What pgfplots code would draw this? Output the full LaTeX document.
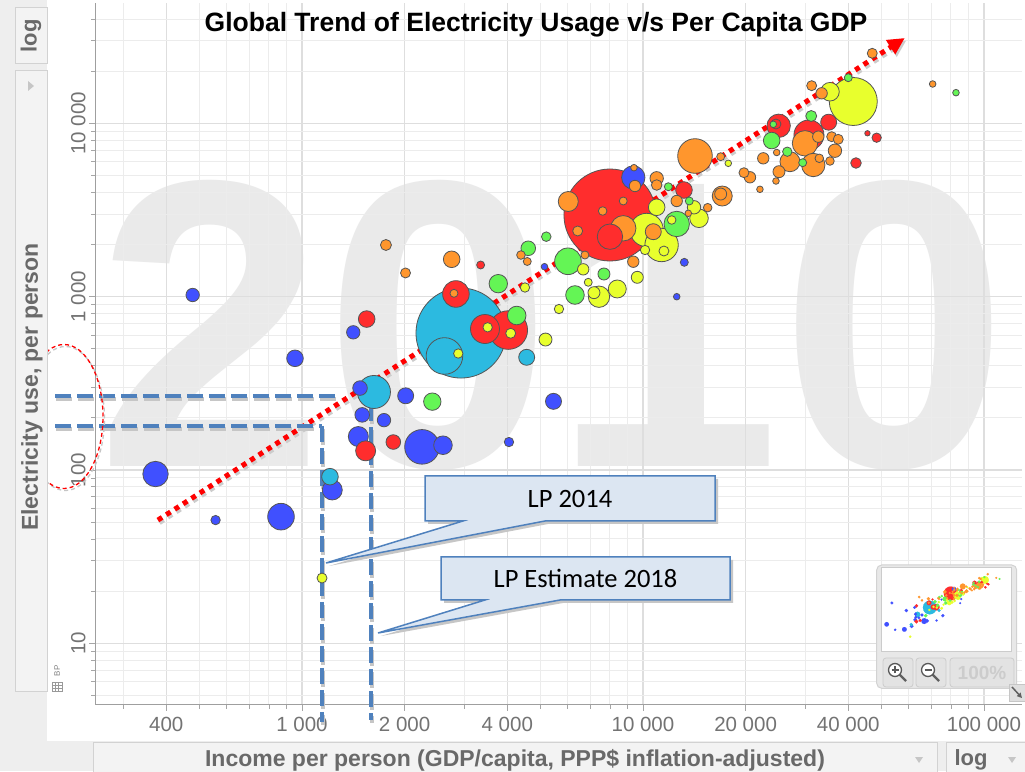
\documentclass[border=0pt]{standalone}
\usepackage{pgfplots}
\pgfplotsset{compat=1.18}
\usepackage{pgfplotstable}
\usepackage{fontspec}
\setmainfont{Liberation Sans}
\newfontfamily\calib{Carlito}
\usetikzlibrary{arrows.meta}

\definecolor{cB}{RGB}{64,80,255}
\definecolor{cC}{RGB}{44,186,224}
\definecolor{cR}{RGB}{255,45,45}
\definecolor{cY}{RGB}{232,255,45}
\definecolor{cO}{RGB}{255,150,45}
\definecolor{cG}{RGB}{100,245,85}
\definecolor{edge}{RGB}{85,85,85}
\definecolor{uibg}{RGB}{238,238,238}
\definecolor{uipanel}{RGB}{243,243,243}
\definecolor{uiborder}{RGB}{210,210,210}
\definecolor{labgray}{RGB}{105,105,105}
\definecolor{tickgray}{RGB}{115,115,115}
\definecolor{wm}{RGB}{234,234,234}
\definecolor{gridmin}{RGB}{236,236,236}
\definecolor{gridmaj}{RGB}{222,222,222}
\definecolor{lpblue}{RGB}{79,129,189}
\definecolor{lpfill}{RGB}{220,230,242}

\pgfplotstableread{
x y r c
8002 2961 46 R
2926 617 45 C
41380 13380 24 Y
4027 642 19.3 R
2617 455 18.3 C
2249 136 17.3 B
14210 6485 17.3 O
10250 2426 16.7 Y
11340 1988 16.7 Y
1626 282 16.5 C
30670 8573 15 R
3441 651 14.5 R
2828 1037 13.3 R
868 53.8 13.3 B
6026 1601 13.3 G
372 94.8 12.7 B
8754 2482 12.7 O
8002 2220 12.7 R
12560 2628 12.7 G
29860 7676 12.7 O
9367 4873 11.7 B
25000 9685 11.7 R
31580 5754 11.7 O
7430 1000 10.7 Y
1463 156 10 B
1537 129 10 R
1227 76.7 10 B
6039 3543 10 O
17080 3811 10 O
26980 6011 10 O
2591 139 9.3 B
4263 779 9.3 G
14600 2835 9.3 Y
6318 1023 9.3 G
35350 15230 9.3 Y
3765 1189 9.2 G
8408 1108 9 Y
2411 248 8.7 G
954 441 8.3 B
1548 743 8.3 R
1208 91.5 8.3 C
2748 1644 8.3 O
13190 4127 8.3 R
10970 3281 8.3 Y
23850 7965 8.3 G
2014 268 8 B
5465 249 8 B
4560 447 8 C
10720 2372 8 O
35040 10160 8 R
1480 297 7.3 B
1502 208 7.3 B
1853 145 7.3 R
4609 1903 7.3 G
478 1023 6.7 B
1414 623 6.7 B
1740 194 6.7 B
10970 4822 6.7 O
14115 3281 6.7 Y
36560 6958 6.7 O
5178 566 6.5 Y
7684 1352 6 G
9623 1294 6 Y
7183 1055 6 Y
16900 3913 6 O
25050 5264 6 O
9473 4353 5.7 O
12560 3567 5.7 O
9367 1592 5.7 O
6681 1439 5.7 Y
22530 6289 5.7 O
20600 4887 5.7 O
33420 14920 5.7 O
32670 8381 5.7 O
1763 1988 5.5 O
31150 11030 5.5 G
10970 4411 5.3 O
42140 5909 5.3 R
4093 615 5 Y
2012 1371 5 O
6434 2394 5 O
11520 1835 5 Y
19780 5194 5 O
31240 16510 5 O
47030 25380 5 O
24550 9920 5 R
35760 8381 5 O
37390 8097 5 O
1145 23.8 5 Y
5205 2220 4.8 G
4046 145 4.7 B
558 51.4 4.7 B
2873 470 4.7 Y
4508 1130 4.7 Y
3504 666 4.7 Y
5671 849 4.7 Y
10140 1860 4.7 Y
48450 8271 4.7 R
26500 6866 4.7 G
4387 1740 4.3 O
7617 3123 4.3 O
15480 3264 4.3 O
12140 2771 4.3 Y
32890 6289 4.3 O
35350 6067 4.3 O
2791 1046 4 O
3342 1524 4 R
4578 1597 4 O
11870 4312 4 G
8754 3567 4 O
13670 3567 4 G
6758 1740 4 O
13220 1579 4 B
6911 1211 4 Y
16900 6425 4 O
40000 18350 4 G
29400 5933 4 G
5142 1490 3.3 B
9410 5552 3.3 O
13580 3029 3.3 O
12560 1000 3.3 B
17790 5886 3.3 Y
24550 4651 3.3 O
22030 4166 3.3 O
24670 6794 3.3 O
70730 16880 3.3 O
82780 15040 3.3 G
24110 9880 3.3 G
45530 8768 2.7 R
}\bubbles

\begin{document}
\begin{tikzpicture}[x=1pt,y=1pt]
\useasboundingbox (0,0) rectangle (1025,771);
% UI background
\fill[uibg] (0,0) rectangle (1025,771);
\fill[white] (47,30) rectangle (1025,771);
% watermark
\node[anchor=base, inner sep=0, text=wm, font=\fontsize{410}{410}\selectfont\bfseries] at (553,304) {2010};

\begin{axis}[
  at={(95pt,66pt)}, anchor=south west,
  width=927pt, height=702pt, scale only axis,
  xmode=log, ymode=log,
  xmin=247.2, xmax=129300, ymin=4.406, ymax=49520,
  axis x line*=bottom, axis y line*=left,
  axis line style={draw=gray!75, line width=1pt},
  xtick={400,1000,2000,4000,10000,20000,40000,100000},
  xticklabels={400,1 000,2 000,4 000,10 000,20 000,40 000,100 000},
  minor xtick={300,500,600,700,800,900,3000,5000,6000,7000,8000,9000,30000,50000,60000,70000,80000,90000},
  ytick={10,100,1000,10000},
  yticklabels={10,100,1 000,10 000},
  minor ytick={5,6,7,8,9,20,30,40,50,60,70,80,90,200,300,400,500,600,700,800,900,2000,3000,4000,5000,6000,7000,8000,9000,20000,30000,40000},
  grid=both,
  major grid style={draw=gridmaj, line width=1.5pt},
  minor grid style={draw=gridmin, line width=1pt},
  tick align=outside,
  major tick length=6pt, minor tick length=4pt,
  tick style={draw=gray!70, line width=0.8pt},
  tick label style={text=tickgray, font=\fontsize{20.5}{20.5}\selectfont},
  xticklabel style={anchor=north, yshift=-3pt},
  yticklabel style={rotate=90, anchor=south},
  clip=false,
]
\addplot[scatter, only marks, mark=*,
  point meta=explicit symbolic,
  scatter/classes={
    B={mark=*, fill=cB, draw=edge},
    C={mark=*, fill=cC, draw=edge},
    R={mark=*, fill=cR, draw=edge},
    Y={mark=*, fill=cY, draw=edge},
    O={mark=*, fill=cO, draw=edge},
    G={mark=*, fill=cG, draw=edge}},
  visualization depends on={\thisrow{r} \as \rad},
  scatter/@pre marker code/.append style={/tikz/mark size=\rad},
  mark options={line width=0.8pt},
] table[x=x, y=y, meta=c] {\bubbles};

% trend arrow (shadow + red dotted)
\addplot[draw=gray!40, line width=5pt, dash pattern=on 5pt off 5pt, xshift=1.5pt, yshift=-2.5pt,
  -{Triangle[length=17pt,width=16pt]}] coordinates {(378,51.4) (58600,31100)};
\addplot[draw=red, line width=5pt, dash pattern=on 5pt off 5pt,
  -{Triangle[length=17pt,width=16pt]}] coordinates {(378,51.4) (58600,31100)};

% LP guide lines: shadows
\addplot[draw=gray!45, line width=4.5pt, dash pattern=on 16pt off 6pt, xshift=1pt, yshift=-3pt] coordinates {(189,268) (1292,268)};
\addplot[draw=gray!45, line width=4.5pt, dash pattern=on 16pt off 6pt, xshift=1pt, yshift=-3pt] coordinates {(189,180) (1145,180)};
\addplot[draw=gray!45, line width=4.5pt, dash pattern=on 16pt off 6pt, xshift=1pt, yshift=-3pt] coordinates {(1145,180) (1145,3.51)};
\addplot[draw=gray!45, line width=4.5pt, dash pattern=on 16pt off 6pt, xshift=1pt, yshift=-3pt] coordinates {(1593,237) (1593,3.61)};
% LP guide lines
\addplot[draw=lpblue, line width=4.5pt, dash pattern=on 16pt off 6pt] coordinates {(189,268) (1292,268)};
\addplot[draw=lpblue, line width=4.5pt, dash pattern=on 16pt off 6pt] coordinates {(189,180) (1145,180)};
\addplot[draw=lpblue, line width=4.5pt, dash pattern=on 16pt off 6pt] coordinates {(1145,180) (1145,3.51)};
\addplot[draw=lpblue, line width=4.5pt, dash pattern=on 16pt off 6pt] coordinates {(1593,237) (1593,3.61)};
\end{axis}

% title
\node[font=\fontsize{26.5}{26.5}\selectfont\bfseries] at (536,746) {Global Trend of Electricity Usage v/s Per Capita GDP};

% red dashed ellipse
\draw[gray!45, line width=1.3pt, dash pattern=on 4pt off 3pt] (65.5,352.5) ellipse [x radius=39, y radius=72];
\draw[red, line width=1.3pt, dash pattern=on 4pt off 3pt] (64,354.5) ellipse [x radius=39, y radius=72];

% callout LP 2014
\fill[gray!45] (428,247) -- (466,247) -- (329,205) -- (548,247) -- (718,247) -- (718,292) -- (428,292) -- cycle;
\filldraw[fill=lpfill, draw=lpblue, line width=1.5pt] (425,250) -- (463,250) -- (326,208) -- (545,250) -- (715,250) -- (715,295) -- (425,295) -- cycle;
\node[font=\calib\fontsize{26.5}{26.5}\selectfont] at (570,272.5) {LP 2014};
% callout LP Estimate 2018
\fill[gray!45] (444,168) -- (488,168) -- (381,135) -- (563,168) -- (733,168) -- (733,211) -- (444,211) -- cycle;
\filldraw[fill=lpfill, draw=lpblue, line width=1.5pt] (441,171) -- (485,171) -- (378,138) -- (560,171) -- (730,171) -- (730,214) -- (441,214) -- cycle;
\node[font=\calib\fontsize{26.5}{26.5}\selectfont] at (585.5,192.5) {LP Estimate 2018};

% left UI
\filldraw[fill=uipanel, draw=uiborder, line width=1pt] (15,707) rectangle (47,763);
\node[rotate=90, font=\fontsize{22}{22}\selectfont\bfseries, text=labgray] at (31,735) {log};
\filldraw[fill=uipanel, draw=uiborder, line width=1pt] (15,79) rectangle (47,700);
\fill[gray!45] (28,690) -- (34,685) -- (28,680) -- cycle;
\node[rotate=90, font=\fontsize{23}{23}\selectfont\bfseries, text=labgray] at (32,384) {Electricity use, per person};
\node[rotate=90, font=\fontsize{8}{8}\selectfont, text=gray] at (57,100) {BP};
\draw[gray!80, line width=0.6pt] (52,80) rectangle (62,89) (52,83) -- (62,83) (52,86) -- (62,86) (55.3,80) -- (55.3,89) (58.6,80) -- (58.6,89);

% bottom UI
\filldraw[fill=uipanel, draw=uiborder, line width=1pt] (93,-2) rectangle (937,29);
\node[font=\fontsize{23}{23}\selectfont\bfseries, text=labgray] at (515,11) {Income per person (GDP/capita, PPP\$ inflation-adjusted)};
\fill[gray!45] (915,14) -- (923,14) -- (919,8) -- cycle;
\filldraw[fill=uipanel, draw=uiborder, line width=1pt] (946,-2) rectangle (1027,29);
\node[font=\fontsize{22}{22}\selectfont\bfseries, text=labgray] at (971,11) {log};
\fill[gray!45] (1008,14) -- (1016,14) -- (1012,8) -- cycle;

% mini map
\filldraw[fill=gray!18, draw=gray!35, line width=1pt, rounded corners=5pt] (876.7,82.7) rectangle (1016.7,206);
\filldraw[fill=white, draw=gray!40, line width=0.8pt] (881.7,119.3) rectangle (1011.7,203.7);
\begin{axis}[at={(881.7pt,119.3pt)}, anchor=south west, width=130pt, height=84.4pt, scale only axis,
  xmode=log, ymode=log, xmin=293, xmax=148200, ymin=4.45, ymax=55000, hide axis]
\addplot[scatter, only marks, mark=*,
  point meta=explicit symbolic,
  scatter/classes={
    B={mark=*, fill=cB, draw=cB},
    C={mark=*, fill=cC, draw=cC},
    R={mark=*, fill=cR, draw=cR},
    Y={mark=*, fill=cY, draw=cY},
    O={mark=*, fill=cO, draw=cO},
    G={mark=*, fill=cG, draw=cG}},
  visualization depends on={0.14*\thisrow{r}+0.5 \as \rad},
  scatter/@pre marker code/.append style={/tikz/mark size=\rad},
  mark options={line width=0.1pt},
] table[x=x, y=y, meta=c] {\bubbles};
\end{axis}
\filldraw[fill=gray!22, draw=gray!40, line width=0.8pt, rounded corners=3pt] (883,84) rectangle (913,113);
\filldraw[fill=gray!22, draw=gray!40, line width=0.8pt, rounded corners=3pt] (916,84) rectangle (946,113);
\filldraw[fill=gray!22, draw=gray!40, line width=0.8pt, rounded corners=3pt] (950,84) rectangle (1014,113);
\draw[gray!75!black, line width=2.2pt] (899.5,96.5) -- (906,90);
\filldraw[fill=white, draw=gray!70!black, line width=1.3pt] (895,101) circle (6.5);
\draw[gray!70!black, line width=1.2pt] (891.5,101) -- (898.5,101) (895,97.5) -- (895,104.5);
\draw[gray!75!black, line width=2.2pt] (932.5,96.5) -- (939,90);
\filldraw[fill=white, draw=gray!70!black, line width=1.3pt] (928,101) circle (6.5);
\draw[gray!70!black, line width=1.2pt] (924.5,101) -- (931.5,101);
\node[font=\fontsize{19}{19}\selectfont\bfseries, text=gray!40] at (982,98.5) {100\%};
% corner icon
\filldraw[fill=gray!25, draw=gray!45, line width=0.8pt] (1009,70) rectangle (1025,87);
\draw[gray!75!black, line width=1.5pt, -{Triangle[length=5pt,width=5pt]}] (1012,84) -- (1022,73);
\end{tikzpicture}
\end{document}
